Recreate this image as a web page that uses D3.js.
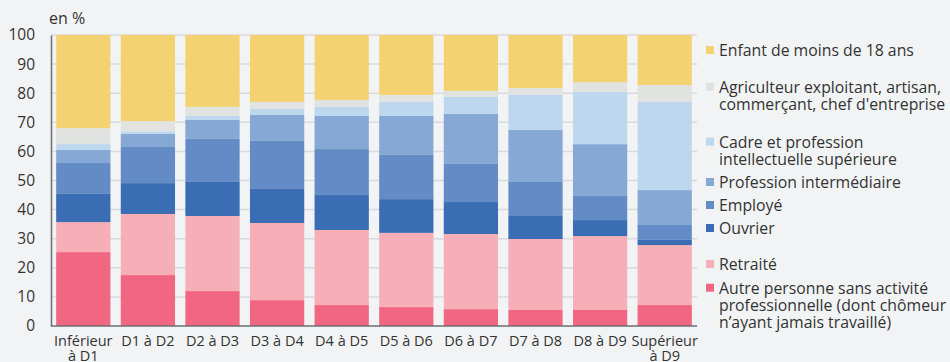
<!DOCTYPE html>
<html>
<head>
<meta charset="utf-8">
<script src="https://cdn.jsdelivr.net/npm/d3@7/dist/d3.min.js"></script>
<style>
  html, body { margin: 0; padding: 0; background: #f2f3f5; }
  svg { display: block; font-family: "Open Sans", "Noto Sans", sans-serif; }
</style>
</head>
<body>
<svg id="chart" width="950" height="362"></svg>
<script>
// Niveau de vie par décile : répartition selon la catégorie de la personne de référence
const categories = ["Inférieur\nà D1", "D1 à D2", "D2 à D3", "D3 à D4", "D4 à D5",
                    "D5 à D6", "D6 à D7", "D7 à D8", "D8 à D9", "Supérieur\nà D9"];

// Séries, de bas en haut de la pile (en %)
const autre      = [25.4, 17.5, 12.0,  8.9,  7.2,  6.5,  5.8,  5.5,  5.5,  7.2];
const retraite   = [10.3, 21.0, 25.8, 26.5, 25.8, 25.5, 25.8, 24.4, 25.4, 20.6];
const ouvrier    = [ 9.7, 10.6, 11.7, 11.7, 12.0, 11.6, 11.0,  7.9,  5.5,  1.8];
const employe    = [10.6, 12.4, 14.8, 16.5, 15.8, 15.2, 13.1, 11.7,  8.3,  5.1];
const profInter  = [ 4.5,  4.5,  6.5,  8.9, 11.4, 13.4, 17.2, 17.9, 17.8, 12.0];
const cadre      = [ 2.0,  0.9,  1.4,  2.1,  3.1,  4.8,  5.8, 12.0, 17.9, 30.3];
const agri       = [ 5.5,  3.5,  3.1,  2.4,  2.4,  2.4,  2.1,  2.4,  3.4,  5.8];
const enfant     = [32.0, 29.6, 24.7, 23.0, 22.3, 20.6, 19.2, 18.2, 16.2, 17.2];

const yTicks = [0, 10, 20, 30, 40, 50, 60, 70, 80, 90, 100];

const seriesNames = ["Autre personne sans activité\nprofessionnelle (dont chômeur\nn’ayant jamais travaillé)",
                     "Retraité", "Ouvrier", "Employé", "Profession intermédiaire",
                     "Cadre et profession\nintellectuelle supérieure",
                     "Agriculteur exploitant, artisan,\ncommerçant, chef d'entreprise",
                     "Enfant de moins de 18 ans"];
const seriesValues = [autre, retraite, ouvrier, employe, profInter, cadre, agri, enfant];
const seriesColors = ["#f16782", "#f7afb7", "#3a6db4", "#638bc6", "#86a8d4",
                      "#bdd7ee", "#e1e3e0", "#f5d271"];

// Table for d3.stack
const keys = seriesNames.map((_, i) => "s" + i);
const table = categories.map((c, j) => {
  const row = { cat: c };
  seriesValues.forEach((vals, i) => { row[keys[i]] = vals[j]; });
  return row;
});

const svg = d3.select("#chart");
const plotLeft = 51, plotRight = 697, plotTop = 35, plotBottom = 326;

const x = d3.scaleBand().domain(categories).range([plotLeft, plotRight])
  .paddingInner(0.16).paddingOuter(0.08);
const y = d3.scaleLinear().domain([0, 100]).range([plotBottom, plotTop]);
const color = d3.scaleOrdinal().domain(keys).range(seriesColors);

// Grid lines
svg.append("g")
  .selectAll("line").data(yTicks.filter(d => d > 0)).join("line")
  .attr("x1", plotLeft).attr("x2", plotRight)
  .attr("y1", d => y(d)).attr("y2", d => y(d))
  .attr("stroke", "#d8dadd").attr("stroke-width", 1.5);

// Stacked bars
const stacked = d3.stack().keys(keys)(table);
svg.append("g").selectAll("g").data(stacked).join("g")
  .attr("fill", d => color(d.key))
  .selectAll("rect").data(d => d).join("rect")
  .attr("x", d => x(d.data.cat))
  .attr("width", x.bandwidth())
  .attr("y", d => y(Math.min(d[1], 100)))
  .attr("height", d => y(d[0]) - y(Math.min(d[1], 100)));

// Y axis
const yAxis = svg.append("g")
  .attr("transform", `translate(${plotLeft},0)`)
  .call(d3.axisLeft(y).tickValues(yTicks).tickSize(0).tickPadding(16));
yAxis.select(".domain").attr("stroke", "#6b6e72").attr("stroke-width", 1.5);
yAxis.selectAll("text").attr("font-size", 15.5).attr("fill", "#333")
  .attr("font-family", "\"Open Sans\", sans-serif");

// X axis
const xAxis = svg.append("g")
  .attr("transform", `translate(0,${plotBottom})`)
  .call(d3.axisBottom(x).tickSize(0).tickFormat(""));
xAxis.select(".domain").attr("stroke", "#6b6e72").attr("stroke-width", 1.5)
  .attr("d", `M${plotLeft},0H${plotRight}`);

const xLabels = svg.append("g").selectAll("text").data(categories).join("text")
  .attr("x", d => x(d) + x.bandwidth() / 2)
  .attr("y", plotBottom + 20)
  .attr("text-anchor", "middle")
  .attr("font-size", 14.5).attr("fill", "#333");
xLabels.selectAll("tspan").data(d => d.split("\n")).join("tspan")
  .attr("x", function() { return d3.select(this.parentNode).attr("x"); })
  .attr("dy", (d, i) => i === 0 ? 0 : 15)
  .text(d => d);

// Unit label
svg.append("text").attr("x", 49).attr("y", 24)
  .attr("font-size", 16).attr("fill", "#333").text("en %");

// Legend (top to bottom, reverse stacking order)
const legendOrder = d3.range(seriesNames.length).reverse();
const legendRowY = [50, 86.7, 141.7, 182, 205, 228, 264, 287.7];
const lineH = 17.3;
const legend = svg.append("g").selectAll("g").data(legendOrder).join("g")
  .attr("transform", (d, i) => `translate(706,${legendRowY[i]})`);
legend.append("rect").attr("x", 0).attr("y", -4).attr("width", 8).attr("height", 8)
  .attr("fill", d => seriesColors[d]);
const ltext = legend.append("text").attr("x", 13).attr("y", 5.8)
  .attr("font-size", 15.8).attr("fill", "#333");
ltext.selectAll("tspan").data(d => seriesNames[d].split("\n")).join("tspan")
  .attr("x", 13).attr("dy", (d, i) => i === 0 ? 0 : lineH).text(d => d);
</script>
</body>
</html>
